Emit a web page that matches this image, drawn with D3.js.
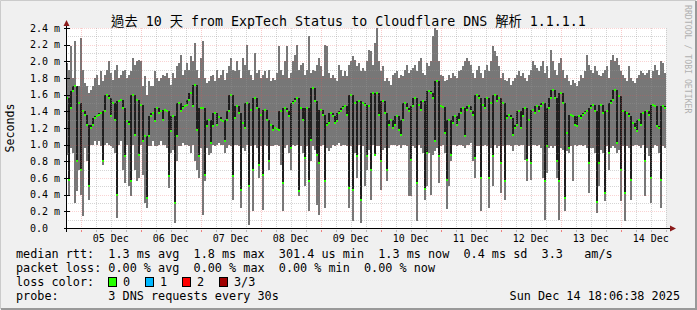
<!DOCTYPE html>
<html lang="en">
<head>
<meta charset="UTF-8">
<title>SmokePing - ExpTech Status to Cloudflare DNS</title>
<script src="https://d3js.org/d3.v7.min.js"></script>
<style>
  body { margin: 0; background: #fff; }
  svg text { font-family: "DejaVu Sans Mono", "Noto Sans CJK TC", monospace; fill: #000; }
</style>
</head>
<body>
<svg id="chart" width="697" height="310"></svg>
<script>
// one column per 48 minutes, values in microseconds
const hi = [
1980,1900,2180,1800,2240,1600,1700,2280,1900,1740,1700,1620,1660,1700,1800,1840,1720,1880,1760,1840,
1900,2000,1860,1780,1900,1960,1800,1840,1880,1900,1800,1840,1880,2040,1960,2000,2020,2000,1700,1820,
1600,1760,1700,1700,1880,1800,1760,1800,1840,1820,1860,1800,1720,1860,1800,1940,1980,2080,1840,1900,
1980,1900,2060,2000,2220,1900,1800,2040,2240,1800,1740,1760,1820,1840,1760,1900,1800,1840,1900,1780,
1860,1940,2040,1900,1880,2000,1900,1800,2040,1960,2200,1900,1840,1780,2100,1860,1900,1800,1840,1880,
1800,1900,1760,1800,1780,1860,2180,1900,1840,2000,2180,1800,1860,2000,2080,2200,1900,1960,1980,1840,
1900,2300,1860,1900,1880,1960,2040,1940,1820,2200,2180,1860,1800,1840,1800,1760,1960,1900,1820,1880,
1820,1960,2000,2060,2020,1940,1980,1880,1920,1880,2000,2140,2120,1960,2220,2400,2000,1880,1940,1760,
1800,1760,1720,1840,1860,1880,1800,1840,1820,1900,1960,1860,1900,1920,1960,1880,2000,2040,1860,1840,
1980,1940,2000,2300,2400,2380,2000,1840,1820,1760,1780,1840,1800,1860,1820,1800,1880,1900,1940,2000,
2040,2000,1960,1860,1800,1900,1940,1860,1800,1900,1960,1880,2000,2180,2120,2060,1940,1800,1860,1780,
1760,1800,1720,1760,1800,1840,1880,1820,1860,1800,1760,1840,1900,2000,1960,1920,1880,1940,2000,1860,
1940,1800,2140,2000,1900,1840,1980,2040,1900,1800,1840,1760,1720,1780,1740,1700,1760,1840,1800,1880,
2080,1960,1900,1860,1940,1880,1840,1820,1860,1900,1940,1800,2020,2080,2000,2040,1960,1880,1840,1800,
1760,1940,1800,1760,1740,1800,1840,1880,1860,1840,1860,1900,1800,1880,1960,1900,1840,2000,1980,1860
];
const lo = [
880,400,960,900,300,450,700,400,150,960,800,340,1000,1000,1040,1000,1040,980,760,1000,
1020,1000,980,960,900,120,1000,1040,700,540,1000,500,380,1000,700,560,600,1000,640,300,
240,980,980,1040,980,980,1000,1040,1000,1000,960,480,900,940,60,800,980,980,1020,1000,
1000,980,900,1000,800,700,600,960,160,560,960,880,900,1000,980,1000,1020,1000,1000,900,
960,1000,980,340,1000,1000,980,240,960,920,1000,40,980,200,1000,960,600,980,220,1000,
980,700,980,980,1000,1000,980,760,200,960,1000,900,700,1000,980,1000,380,980,900,500,
980,200,800,980,940,280,160,980,1000,240,960,920,960,1000,980,1000,1020,980,1000,1000,
980,240,980,80,900,600,1000,64,980,500,700,940,340,1000,860,980,980,460,940,960,
560,960,1000,1000,1000,980,1000,960,1000,1000,980,380,380,980,960,84,1000,960,900,340,
500,900,400,880,920,960,540,980,1000,900,224,500,800,1000,1000,980,1000,1000,980,960,
1000,1000,1020,800,600,980,980,200,980,1000,980,240,960,500,1000,960,980,420,980,340,
1000,1000,980,920,1000,1000,980,1000,1000,820,560,980,580,1000,1000,980,1000,960,600,100,
660,960,980,960,980,600,100,960,940,200,920,900,980,560,1000,980,1000,1000,980,1000,
960,420,960,960,900,180,500,940,900,320,980,700,960,980,960,900,940,320,980,84,
980,960,340,980,1000,1000,980,960,1000,380,960,860,300,960,1000,980,900,244,980,960
];
const med = [
1560,580,1440,1640,1700,800,1500,700,1400,1360,1240,500,1200,1240,1320,1340,1360,1380,800,1400,
1600,1560,1340,1500,1300,400,1520,1540,1440,860,1280,1250,560,1600,1120,1540,880,1480,1040,1100,
360,1100,1340,1380,1280,1440,1380,1400,1300,1420,1400,620,1160,1340,300,1100,1500,1400,1440,1460,
1480,1540,1620,1460,1720,1180,860,1440,1440,640,1220,1300,1020,1220,1380,1240,1330,1300,1280,1050,
1300,1400,1600,620,1320,1460,1380,460,1260,1200,1500,500,1420,700,1560,1440,760,1360,640,1420,
1300,800,1240,1180,1200,1190,1180,1400,540,1440,1400,1340,960,1500,1520,1560,440,1440,1300,840,
1440,560,1060,1680,1520,880,780,1420,1360,560,1240,1260,1380,1340,1260,1290,1380,1400,1440,1460,
1360,480,1600,460,1500,860,1520,340,1500,1480,860,1460,700,1620,880,1620,1360,800,1520,1380,
700,1240,1300,1200,1240,1340,1180,1120,1300,1500,1440,1400,820,1460,1560,540,1480,1420,1520,464,
900,1640,1620,1560,1040,1760,860,1460,1450,1140,580,1300,880,1260,1340,1240,1300,1380,1440,1100,
1420,1460,1400,1360,840,1600,1560,600,1480,1440,1560,600,1500,860,1600,1520,1560,780,1500,560,
1320,1360,1320,1120,1200,1240,1400,1200,1340,1440,820,1300,780,1420,1380,1460,1400,1460,1500,560,
980,1440,1560,1660,1560,800,560,1620,1500,360,1140,960,1360,1340,1240,1220,1340,1320,1360,1380,
1400,784,1440,1480,1400,310,780,1480,1380,420,1400,900,1500,1540,1660,1020,1580,700,1400,420,
1380,1340,580,1260,1200,1160,1300,1240,1380,800,1400,1360,600,1480,1460,1230,1200,580,1460,1440
];

const yTicks = [0, 0.2, 0.4, 0.6, 0.8, 1.0, 1.2, 1.4, 1.6, 1.8, 2.0, 2.2, 2.4];
const title = "過去 10 天 from ExpTech Status to Cloudflare DNS 解析 1.1.1.1";
const legendLines = [
  "median rtt:  1.3 ms avg  1.8 ms max  301.4 us min  1.3 ms now  0.4 ms sd  3.3   am/s",
  "packet loss: 0.00 % avg  0.00 % max  0.00 % min  0.00 % now",
  "loss color:",
  "probe:       3 DNS requests every 30s"
];
const lossLabels = ["0", "1", "2", "3/3"];
const lossColors = ["#26ff00", "#00b8ff", "#ff0000", "#a00000"];
const stamp = "Sun Dec 14 18:06:38 2025";

const W = 697, H = 310;
const margin = {top: 28, right: 31, bottom: 82, left: 66};
const start = Date.UTC(2025, 11, 4, 18, 6, 38);
const end = Date.UTC(2025, 11, 14, 18, 6, 38);
const step = (end - start) / med.length;

const svg = d3.select("#chart");

const x = d3.scaleUtc().domain([start, end]).range([margin.left, W - margin.right]);
const y = d3.scaleLinear().domain([0, 2.4]).range([H - margin.bottom, margin.top]);
const ms = v => v / 1000;
const crisp = v => Math.round(v) + 0.5;

// frame
svg.append("rect").attr("width", W).attr("height", H).attr("fill", "#f0f0f0");
svg.append("path").attr("d", `M0.5,${H - 1}V0.5H${W - 1}`).attr("stroke", "#cbcbcb").attr("stroke-width", 1).attr("fill", "none");
svg.append("path").attr("d", `M1,${H - 1}H${W - 1}V1`).attr("stroke", "#999").attr("stroke-width", 2).attr("fill", "none");

svg.append("rect")
    .attr("x", x.range()[0]).attr("y", y.range()[1])
    .attr("width", x.range()[1] - x.range()[0]).attr("height", y.range()[0] - y.range()[1])
    .attr("fill", "#fff");

// smoke
const cols = med.map((m, i) => ({
  t: start + i * step, hi: hi[i], lo: lo[i], med: m,
  // the dark step is drawn in the lower of two neighbouring columns
  reach: Math.max(m, i ? med[i - 1] : m, i < med.length - 1 ? med[i + 1] : m)
}));

svg.append("g").attr("shape-rendering", "crispEdges")
  .selectAll("rect").data(cols).join("rect")
    .attr("x", d => x(d.t))
    .attr("width", d => x(d.t + step) - x(d.t))
    .attr("y", d => y(ms(d.hi)))
    .attr("height", d => y(ms(d.lo)) - y(ms(d.hi)))
    .attr("fill", "#777777");

svg.append("g").attr("shape-rendering", "crispEdges")
  .selectAll("rect").data(cols.filter(d => d.reach > d.med)).join("rect")
    .attr("x", d => x(d.t))
    .attr("width", d => x(d.t + step) - x(d.t))
    .attr("y", d => y(ms(d.reach)))
    .attr("height", d => y(ms(d.med)) - y(ms(d.reach)))
    .attr("fill", "#1e1e1e");

svg.append("g").attr("shape-rendering", "crispEdges")
  .selectAll("rect").data(cols).join("rect")
    .attr("x", d => x(d.t))
    .attr("width", 1.5)
    .attr("y", d => y(ms(d.med)) - 1)
    .attr("height", 2)
    .attr("fill", lossColors[0]);

// grid
const grid = svg.append("g").attr("fill", "none").attr("stroke-width", 1).attr("stroke-dasharray", "1,1");
const minorY = d3.range(1, 24).map(i => i / 10).filter(v => Math.round(v * 10) % 2 === 1);
grid.selectAll(".hmin").data(minorY).join("line")
    .attr("x1", x.range()[0]).attr("x2", x.range()[1])
    .attr("y1", d => crisp(y(d))).attr("y2", d => crisp(y(d)))
    .attr("stroke", "rgba(150,150,150,0.4)");
grid.selectAll(".hmaj").data(yTicks.slice(1)).join("line")
    .attr("x1", x.range()[0]).attr("x2", x.range()[1])
    .attr("y1", d => crisp(y(d))).attr("y2", d => crisp(y(d)))
    .attr("stroke", "rgba(235,80,80,0.25)");
const sixH = d3.utcHour.every(6).range(new Date(start), new Date(end)).filter(d => d.getUTCHours() !== 0);
const days = d3.utcDay.range(new Date(start), new Date(end));
grid.selectAll(".vmin").data(sixH).join("line")
    .attr("x1", d => crisp(x(d))).attr("x2", d => crisp(x(d)))
    .attr("y1", y.range()[1]).attr("y2", y.range()[0])
    .attr("stroke", "rgba(150,150,150,0.4)");
grid.selectAll(".vmaj").data(days).join("line")
    .attr("x1", d => crisp(x(d))).attr("x2", d => crisp(x(d)))
    .attr("y1", y.range()[1]).attr("y2", y.range()[0])
    .attr("stroke", "rgba(235,80,80,0.3)");

// axes
const x0 = crisp(x.range()[0]), y0 = crisp(y.range()[0]);
const axis = svg.append("g").attr("shape-rendering", "crispEdges");
axis.append("line").attr("x1", x0 - 3).attr("x2", x.range()[1] + 4).attr("y1", y0).attr("y2", y0).attr("stroke", "#000");
axis.append("line").attr("x1", x0).attr("x2", x0).attr("y1", y0 + 3).attr("y2", y.range()[1] - 2).attr("stroke", "#000");
axis.selectAll(".yt").data(yTicks).join("line")
    .attr("x1", x0 - 3).attr("x2", x0 + 3)
    .attr("y1", d => crisp(y(d))).attr("y2", d => crisp(y(d)))
    .attr("stroke", "#000");
axis.selectAll(".xt6").data(sixH).join("line")
    .attr("x1", d => crisp(x(d))).attr("x2", d => crisp(x(d)))
    .attr("y1", y0 + 1).attr("y2", y0 + 3).attr("stroke", "#bbb");
axis.selectAll(".xtd").data(days).join("line")
    .attr("x1", d => crisp(x(d))).attr("x2", d => crisp(x(d)))
    .attr("y1", y0 + 1).attr("y2", y0 + 3).attr("stroke", "#f08080");
const xEnd = x.range()[1] + 4, yTop = y.range()[1] - 2;
svg.append("path").attr("d", `M${xEnd},${y0 - 3}L${xEnd + 6},${y0}L${xEnd},${y0 + 3}Z`).attr("fill", "#8b1a1a");
svg.append("path").attr("d", `M${x0 - 3},${yTop}L${x0},${yTop - 6}L${x0 + 3},${yTop}Z`).attr("fill", "#8b1a1a");

// tick labels
svg.append("g").attr("font-size", 10)
  .selectAll("text").data(yTicks).join("text")
    .attr("x", 30).attr("y", d => y(d) + 3.7)
    .style("white-space", "pre")
    .text(d => d === 0 ? "0.0" : d3.format(".1f")(d) + " m");
svg.append("g").attr("font-size", 10).attr("text-anchor", "middle")
  .selectAll("text").data(days).join("text")
    .attr("x", d => x(+d + 12 * 3600e3)).attr("y", y0 + 13)
    .text(d => d3.utcFormat("%d %b")(d));

// titles
svg.append("text").attr("x", W / 2).attr("y", 26).attr("text-anchor", "middle")
    .attr("font-size", 13.3).text(title);
svg.append("text").attr("transform", `translate(14,${(y.range()[0] + y.range()[1]) / 2}) rotate(-90)`)
    .attr("text-anchor", "middle").attr("font-size", 11.6).text("Seconds");
svg.append("text").attr("transform", "translate(685,5) rotate(90)")
    .attr("font-size", 8.2).style("fill", "#b0b0b0").text("RRDTOOL / TOBI OETIKER");

// legend
const leg = svg.append("g").attr("font-size", 11.8);
leg.selectAll("text").data(legendLines).join("text")
    .attr("x", 16).attr("y", (d, i) => 258 + i * 14)
    .style("white-space", "pre")
    .text(d => d);
const lc = leg.append("g").selectAll("g").data(lossLabels).join("g")
    .attr("transform", (d, i) => `translate(${108 + i * 37},277)`);
lc.append("rect").attr("x", 0.5).attr("y", 0.5).attr("width", 8).attr("height", 9)
    .attr("fill", (d, i) => lossColors[i]).attr("stroke", "#000");
lc.append("text").attr("x", 15).attr("y", 9).text(d => d);
leg.append("text").attr("x", 680).attr("y", 300).attr("text-anchor", "end").text(stamp);
</script>
</body>
</html>
